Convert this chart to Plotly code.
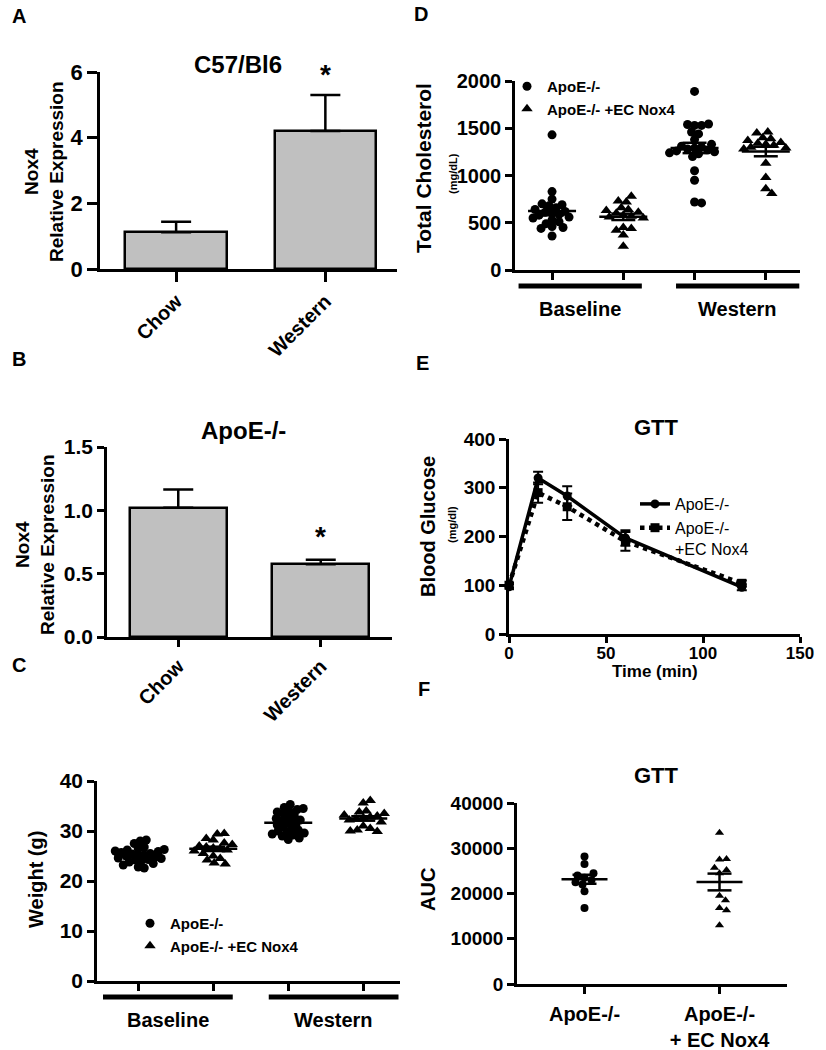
import numpy as np
import plotly.graph_objects as go

W, H = 826, 1050
FONT = "Liberation Sans, Arial, Helvetica, sans-serif"

# ---------------- data ----------------
series_names = ["ApoE-/-", "ApoE-/- +EC Nox4"]

# Panel A: Nox4 relative expression, C57/Bl6
a_categories = ["Chow", "Western"]
a_mean = [1.12, 4.20]
a_sem = [0.32, 1.10]

# Panel B: Nox4 relative expression, ApoE-/-
b_categories = ["Chow", "Western"]
b_mean = [1.02, 0.575]
b_sem = [0.145, 0.035]

# Panel C: body weight (g)
group_labels = ["Baseline", "Western"]
c_baseline_apoe = [28.2, 28.0, 27.5, 26.8, 26.5, 26.3, 26.2, 26.0, 25.9, 25.7, 25.5, 25.4, 25.3,
                   25.2, 25.0, 24.8, 24.6, 24.5, 24.3, 24.2, 24.0, 23.8, 23.5, 23.2, 22.8, 22.6]
c_baseline_nox = [29.5, 29.4, 28.5, 28.2, 27.6, 27.3, 27.0, 26.8, 26.6, 26.4, 26.2, 26.0, 25.5,
                  25.0, 24.5, 24.2, 23.6, 23.4]
c_western_apoe = [35.3, 34.7, 34.5, 34.3, 34.0, 33.8, 33.5, 33.2, 32.8, 32.5, 32.2, 32.0, 31.8,
                  31.5, 31.2, 30.8, 30.5, 30.2, 30.0, 29.8, 29.6, 29.4, 29.2, 29.0, 28.6, 28.3]
c_western_nox = [36.1, 35.6, 34.0, 33.8, 33.5, 33.2, 33.0, 32.8, 32.6, 32.4, 32.2, 31.8, 31.0,
                 30.5, 30.2, 30.0, 29.9]

# Panel D: total cholesterol (mg/dL)
d_baseline_apoe = [1430, 830, 750, 700, 690, 680, 660, 640, 620, 610, 600, 590, 580, 560, 550,
                   530, 510, 490, 460, 450, 440, 360]
d_baseline_nox = [780, 730, 720, 660, 640, 630, 610, 600, 580, 570, 560, 550, 450, 440, 420, 370, 250]
d_western_apoe = [1890, 1545, 1530, 1530, 1540, 1460, 1440, 1380, 1330, 1310, 1300, 1290, 1280,
                  1270, 1260, 1250, 1240, 1230, 1200, 1050, 950, 720, 710]
d_western_nox = [1460, 1450, 1400, 1390, 1370, 1350, 1340, 1330, 1320, 1300, 1290, 1280, 1130,
                 980, 860, 810]

# Panel E: GTT blood glucose (mg/dl)
e_time = [0, 15, 30, 60, 120]
e_apoe_mean = [97, 320, 283, 197, 96]
e_apoe_sem = [5, 13, 20, 16, 6]
e_nox_mean = [100, 290, 261, 190, 104]
e_nox_sem = [5, 21, 27, 19, 6]

# Panel F: GTT AUC
f_categories = ["ApoE-/-", "ApoE-/-<br>+ EC Nox4"]
f_apoe = [28200, 26500, 24500, 24000, 23500, 23000, 22500, 22000, 20500, 16800]
f_nox = [33400, 27600, 27500, 25700, 25200, 24500, 19500, 18500, 16800, 16300, 13000]

# ---------------- layout geometry (pixels) ----------------
PANELS = {
    # name: (x0, x1, ytop, ybottom, xrange, yrange)
    "A": (100, 397, 72, 269, (-0.51, 1.48), (0, 6)),
    "B": (107, 392, 447, 637, (-0.50, 1.50), (0, 1.5)),
    "C": (97, 400, 781, 981, (-0.55, 3.49), (0, 40)),
    "D": (515, 800, 81, 270, (-0.52, 3.48), (0, 2000)),
    "E": (509, 800, 439, 634, (0, 150), (0, 400)),
    "F": (517, 787, 803, 984, (-0.50, 1.50), (0, 40000)),
}
AX = {"A": "", "B": "2", "C": "3", "D": "4", "E": "5", "F": "6"}


def px_scale(p):
    x0, x1, yt, yb, xr, yr = PANELS[p]
    return (x1 - x0) / (xr[1] - xr[0]), (yb - yt) / (yr[1] - yr[0])


def swarm(values, center, ppx, ppy, d, step=1.0):
    vals = np.asarray(values, float)
    med = np.median(vals)
    order = np.argsort(np.abs(vals - med), kind="stable")
    offsets = [0.0]
    for k in range(1, 300):
        offsets += [k * step, -k * step]
    placed = []
    xs = np.empty(len(vals))
    for i in order:
        y = vals[i] * ppy
        chosen = 0.0
        for off in offsets:
            if all((off - px) ** 2 + (y - py) ** 2 >= d * d for px, py in placed):
                chosen = off
                break
        placed.append((chosen, y))
        xs[i] = center + chosen / ppx
    return xs


def mean_sem_lines(groups, centers, ppx, half_mean_px=24, half_sem_px=12):
    xs, ys = [], []
    for vals, c in zip(groups, centers):
        v = np.asarray(vals, float)
        m = v.mean()
        s = v.std(ddof=1) / np.sqrt(len(v))
        hm, hs = half_mean_px / ppx, half_sem_px / ppx
        xs += [c - hm, c + hm, None, c - hs, c + hs, None, c - hs, c + hs, None, c, c, None]
        ys += [m, m, None, m + s, m + s, None, m - s, m - s, None, m - s, m + s, None]
    return xs, ys


fig = go.Figure()

# ---- Panel A ----
fig.add_trace(go.Bar(
    x=list(range(len(a_categories))), y=a_mean, width=0.68,
    marker=dict(color="#c0c0c0", line=dict(color="black", width=2.5)),
    error_y=dict(type="data", symmetric=False, array=a_sem, arrayminus=[0] * len(a_sem),
                 color="black", thickness=2.5, width=15),
    xaxis="x", yaxis="y", showlegend=False))

# ---- Panel B ----
fig.add_trace(go.Bar(
    x=list(range(len(b_categories))), y=b_mean, width=0.68,
    marker=dict(color="#c0c0c0", line=dict(color="black", width=2.5)),
    error_y=dict(type="data", symmetric=False, array=b_sem, arrayminus=[0] * len(b_sem),
                 color="black", thickness=2.5, width=15),
    xaxis="x2", yaxis="y2", showlegend=False))


# ---- Panels C and D (scatter with mean +/- SEM) ----
def dot_panel(p, apoe_groups, nox_groups, legend_name, csize, tsize, cfac, tfac):
    ppx, ppy = px_scale(p)
    ax = AX[p]
    apoe_x, apoe_y, nox_x, nox_y = [], [], [], []
    for gi, (ga, gn) in enumerate(zip(apoe_groups, nox_groups)):
        ca, cn = 2 * gi, 2 * gi + 1
        apoe_x += list(swarm(ga, ca, ppx, ppy, csize * cfac))
        apoe_y += list(ga)
        nox_x += list(swarm(gn, cn, ppx, ppy, tsize * tfac))
        nox_y += list(gn)
    fig.add_trace(go.Scatter(x=apoe_x, y=apoe_y, mode="markers", name=series_names[0],
                             marker=dict(symbol="circle", size=csize, color="black"),
                             xaxis="x" + ax, yaxis="y" + ax, legend=legend_name,
                             cliponaxis=False))
    fig.add_trace(go.Scatter(x=nox_x, y=nox_y, mode="markers", name=series_names[1],
                             marker=dict(symbol="triangle-up", size=tsize, color="black"),
                             xaxis="x" + ax, yaxis="y" + ax, legend=legend_name,
                             cliponaxis=False))
    groups, centers = [], []
    for gi, (ga, gn) in enumerate(zip(apoe_groups, nox_groups)):
        groups += [ga, gn]
        centers += [2 * gi, 2 * gi + 1]
    lx, ly = mean_sem_lines(groups, centers, ppx)
    fig.add_trace(go.Scatter(x=lx, y=ly, mode="lines", line=dict(color="black", width=2.5),
                             xaxis="x" + ax, yaxis="y" + ax, showlegend=False,
                             cliponaxis=False, hoverinfo="skip"))


dot_panel("C", [c_baseline_apoe, c_western_apoe], [c_baseline_nox, c_western_nox],
          "legend", 9, 10, 0.66, 0.7)
dot_panel("D", [d_baseline_apoe, d_western_apoe], [d_baseline_nox, d_western_nox],
          "legend2", 9, 10, 0.72, 0.72)

# ---- Panel E ----
fig.add_trace(go.Scatter(
    x=e_time, y=e_nox_mean, mode="lines+markers", name="ApoE-/-<br>+EC Nox4",
    line=dict(color="black", width=4.5, dash="dot"),
    marker=dict(symbol="square", size=9, color="black"),
    error_y=dict(type="data", array=e_nox_sem, color="black", thickness=2, width=5),
    xaxis="x5", yaxis="y5", legend="legend3", legendrank=2, cliponaxis=False))
fig.add_trace(go.Scatter(
    x=e_time, y=e_apoe_mean, mode="lines+markers", name="ApoE-/-",
    line=dict(color="black", width=3.5),
    marker=dict(symbol="circle", size=9, color="black"),
    error_y=dict(type="data", array=e_apoe_sem, color="black", thickness=2, width=5),
    xaxis="x5", yaxis="y5", legend="legend3", legendrank=1, cliponaxis=False))

# ---- Panel F ----
ppxF, ppyF = px_scale("F")
fig.add_trace(go.Scatter(x=swarm(f_apoe, 0, ppxF, ppyF, 7), y=f_apoe, mode="markers",
                         marker=dict(symbol="circle", size=8, color="black"),
                         xaxis="x6", yaxis="y6", showlegend=False, cliponaxis=False))
fig.add_trace(go.Scatter(x=swarm(f_nox, 1, ppxF, ppyF, 7), y=f_nox, mode="markers",
                         marker=dict(symbol="triangle-up", size=8, color="black"),
                         xaxis="x6", yaxis="y6", showlegend=False, cliponaxis=False))
lxF, lyF = mean_sem_lines([f_apoe, f_nox], [0, 1], ppxF, 23, 12)
fig.add_trace(go.Scatter(x=lxF, y=lyF, mode="lines", line=dict(color="black", width=2.5),
                         xaxis="x6", yaxis="y6", showlegend=False, cliponaxis=False,
                         hoverinfo="skip"))


# ---------------- axes ----------------
def base_axis(**kw):
    d = dict(showline=True, linecolor="black", linewidth=2.5, ticks="outside", ticklen=7,
             tickwidth=2.5, tickcolor="black", showgrid=False, zeroline=False, mirror=False,
             fixedrange=True, automargin=False)
    d.update(kw)
    return d


def tf(size, weight="bold"):
    return dict(family=FONT, size=size, color="black", weight=weight)


layout_axes = {}
tick_sizes = {"A": 22, "B": 21, "C": 21, "D": 20, "E": 19, "F": 19}
for p, (x0, x1, yt, yb, xr, yr) in PANELS.items():
    ax = AX[p]
    layout_axes["xaxis" + ax] = base_axis(domain=[x0 / W, x1 / W], range=list(xr),
                                          anchor="y" + ax, tickfont=tf(20))
    layout_axes["yaxis" + ax] = base_axis(domain=[1 - yb / H, 1 - yt / H], range=list(yr),
                                          anchor="x" + ax, tickfont=tf(tick_sizes[p]))

layout_axes["xaxis"].update(tickvals=[0, 1], ticktext=a_categories, tickangle=-45, ticklen=10)
layout_axes["yaxis"].update(tickvals=[0, 2, 4, 6], ticklen=10)
layout_axes["xaxis2"].update(tickvals=[0, 1], ticktext=b_categories, tickangle=-45)
layout_axes["yaxis2"].update(tickvals=[0, 0.5, 1.0, 1.5], tickformat=".1f")
layout_axes["xaxis3"].update(tickvals=[0, 1, 2, 3], showticklabels=False)
layout_axes["yaxis3"].update(tickvals=[0, 10, 20, 30, 40])
layout_axes["xaxis4"].update(tickvals=[0, 1, 2, 3], showticklabels=False)
layout_axes["yaxis4"].update(tickvals=[0, 500, 1000, 1500, 2000], tickformat="d")
layout_axes["xaxis5"].update(tickvals=[0, 50, 100, 150], tickfont=tf(17), ticklen=6,
                             ticklabelstandoff=-4)
layout_axes["yaxis5"].update(tickvals=[0, 100, 200, 300, 400])
layout_axes["xaxis6"].update(tickvals=[0, 1], ticktext=f_categories, tickfont=tf(20),
                             ticklabelstandoff=3)
layout_axes["yaxis6"].update(tickvals=[0, 10000, 20000, 30000, 40000], tickformat="d")

# ---------------- annotations ----------------
annotations = []


def ann(text, xpx, ypx, size, angle=0, weight="bold", **kw):
    a = dict(text=text, x=xpx / W, y=1 - ypx / H, xref="paper", yref="paper",
             showarrow=False, textangle=angle, font=tf(size, weight),
             xanchor="center", yanchor="middle")
    a.update(kw)
    annotations.append(a)


# panel letters
for letter, (lx, ly) in {"A": (19, 16), "B": (19, 359), "C": (19, 665), "D": (421, 14),
                         "E": (422, 363), "F": (424, 689)}.items():
    ann(letter, lx, ly, 20)

# titles
ann("C57/Bl6", 238, 64, 24)
ann("ApoE-/-", 243, 431, 24)
ann("GTT", 656, 428, 22)
ann("GTT", 656, 775, 22)

# y-axis titles
ann("Nox4<br>Relative Expression", 44, 172, 19, angle=-90)
ann("Nox4<br>Relative Expression", 35, 545, 19, angle=-90)
ann("Weight (g)", 36, 880, 20, angle=-90)
ann("Total Cholesterol", 423, 168, 21, angle=-90)
ann("(mg/dL)", 453, 173, 11, angle=-90)
ann("Blood Glucose", 428, 527, 20, angle=-90)
ann("(mg/dl)", 452, 525, 11, angle=-90)
ann("AUC", 428, 890, 20, angle=-90)
ann("Time (min)", 655, 671, 17)

# significance stars
annotations.append(dict(text="*", x=1, xref="x", y=1 - 75 / H, yref="paper", showarrow=False,
                        font=tf(28), xanchor="center", yanchor="middle"))
annotations.append(dict(text="*", x=1, xref="x2", y=1 - 536 / H, yref="paper", showarrow=False,
                        font=tf(28), xanchor="center", yanchor="middle"))

# group brackets and labels for C and D
shapes = []
group_members = [[0, 1], [2, 3]]
OUT_PAD, IN_PAD = 0.47, 0.26
for p, br_y, lab_px in (("C", -0.08, 1020), ("D", -0.085, 309)):
    ax = AX[p]
    for gi, members in enumerate(group_members):
        if gi == 0:
            s, e = members[0] - OUT_PAD, members[-1] + IN_PAD
        else:
            s, e = members[0] - IN_PAD, members[-1] + OUT_PAD
        shapes.append(dict(type="line", xref="x" + ax, yref="y" + ax + " domain",
                           x0=s, x1=e, y0=br_y, y1=br_y, line=dict(color="black", width=5)))
        annotations.append(dict(text=group_labels[gi], x=(s + e) / 2, xref="x" + ax,
                                y=1 - lab_px / H, yref="paper", showarrow=False,
                                font=tf(20), xanchor="center", yanchor="middle"))

fig.update_layout(
    width=W, height=H, margin=dict(l=0, r=0, t=0, b=0, pad=0, autoexpand=False),
    paper_bgcolor="white", plot_bgcolor="white",
    font=dict(family=FONT, color="black"),
    annotations=annotations, shapes=shapes, showlegend=True, bargap=0,
    legend=dict(x=130 / W, y=1 - 907 / H, xanchor="left", yanchor="top",
                bgcolor="rgba(0,0,0,0)", font=tf(15), tracegroupgap=0),
    legend2=dict(x=507 / W, y=1 - 70 / H, xanchor="left", yanchor="top",
                 bgcolor="rgba(0,0,0,0)", font=tf(15), tracegroupgap=0),
    legend3=dict(x=635 / W, y=1 - 487 / H, xanchor="left", yanchor="top", valign="top",
                 bgcolor="rgba(0,0,0,0)", font=tf(16, "normal"), tracegroupgap=0),
    **layout_axes,
)

fig.write_html("out.html",
               config={"displayModeBar": False},
               post_script="document.body.style.margin='0px';"
                           "document.body.style.overflow='hidden';")
